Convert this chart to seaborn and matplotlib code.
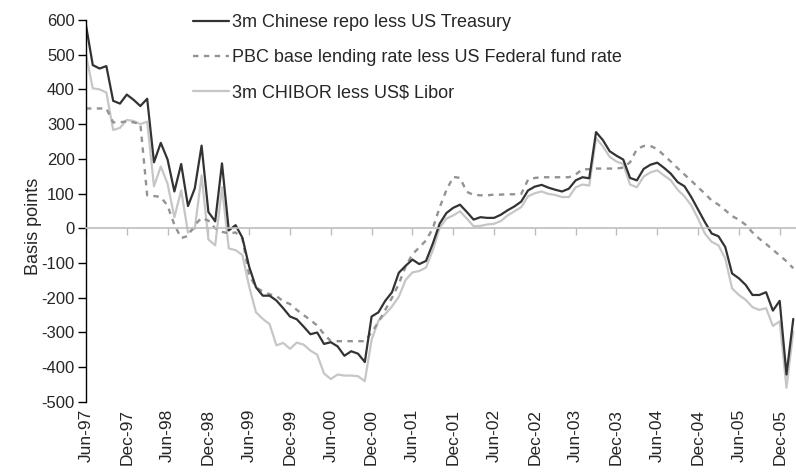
import numpy as np
import pandas as pd
import seaborn as sns
import matplotlib
matplotlib.use("Agg")
import matplotlib.pyplot as plt

# monthly, Jun-97 .. Feb-06 (basis points)
months = pd.date_range("1997-06-01", periods=105, freq="MS")

repo = [585, 470, 460, 467, 367, 359, 385, 370, 352, 373,
        190, 246, 198, 106, 185, 64, 115, 238, 47, 20,
        187, -6, 9, -27, -111, -170, -194, -194, -208, -230,
        -254, -262, -283, -305, -300, -333, -328, -340, -367, -354,
        -361, -385, -254, -242, -209, -184, -128, -108, -90, -103,
        -94, -44, 13, 44, 59, 68, 47, 25, 32, 30,
        30, 39, 52, 63, 77, 109, 120, 125, 117, 111,
        106, 114, 138, 147, 144, 277, 254, 222, 209, 198,
        145, 138, 171, 183, 189, 174, 157, 133, 121, 90,
        54, 18, -15, -23, -54, -130, -144, -163, -192, -192,
        -184, -237, -209, -421, -261]

pbc = [345, 345, 345, 345, 305, 305, 308, 305, 300, 95,
       93, 90, 65, 10, -28, -22, 10, 30, 22, 0,
       -10, -15, -12, -30, -135, -170, -182, -190, -195, -210,
       -218, -235, -250, -264, -280, -305, -325, -325, -325, -325,
       -325, -325, -300, -270, -235, -200, -160, -110, -75, -55,
       -35, 0, 60, 110, 148, 145, 105, 96, 95, 95,
       97, 97, 98, 98, 99, 140, 145, 147, 147, 147,
       147, 147, 155, 170, 170, 172, 172, 172, 172, 175,
       190, 228, 237, 237, 228, 210, 192, 173, 155, 137,
       118, 100, 80, 68, 52, 35, 25, 10, -12, -30,
       -45, -62, -78, -95, -115]

chibor = [500, 403, 400, 391, 283, 289, 312, 309, 300, 307,
          121, 178, 128, 32, 109, -12, -1, 152, -32, -49,
          118, -58, -63, -77, -168, -242, -261, -276, -337, -330,
          -347, -329, -335, -352, -364, -418, -434, -421, -424, -424,
          -426, -440, -321, -266, -247, -225, -197, -149, -127, -123,
          -113, -63, 1, 28, 37, 49, 28, 6, 7, 11,
          13, 21, 37, 49, 61, 92, 101, 106, 99, 96,
          90, 90, 118, 126, 123, 260, 236, 206, 192, 185,
          126, 118, 149, 161, 167, 152, 138, 111, 92, 66,
          28, -15, -39, -49, -87, -173, -192, -206, -227, -235,
          -230, -281, -268, -459, -297]

names = ["3m Chinese repo less US Treasury",
         "PBC base lending rate less US Federal fund rate",
         "3m CHIBOR less US$ Libor"]

x = np.arange(len(months))
tick_pos = x[::6]
tick_labels = months[::6].strftime("%b-%y")

sns.set_theme(style="white")
plt.rcParams["font.family"] = ["Liberation Sans", "DejaVu Sans"]
plt.rcParams["axes.unicode_minus"] = False

fig = plt.figure(figsize=(7.96, 4.74), dpi=100)
ax = fig.add_axes([0.108, 0.152, 0.892, 0.806])

sns.lineplot(x=x, y=chibor, ax=ax, color="#c6c6c6", lw=1.6, label=names[2])
sns.lineplot(x=x, y=pbc, ax=ax, color="#939393", lw=1.7, label=names[1],
             linestyle=(0, (2.3, 2.3)))
sns.lineplot(x=x, y=repo, ax=ax, color="#333333", lw=1.6, label=names[0])

ax.set_xlim(0, 104.4)
ax.set_ylim(-500, 600)
ax.set_yticks(range(-500, 601, 100))
ax.tick_params(axis="y", direction="out", length=6, width=1, color="black",
               labelsize=12, left=True, pad=2)
ax.set_ylabel("Basis points", fontsize=13)
ax.yaxis.set_label_coords(-0.062, 0.46)

for s in ["top", "right"]:
    ax.spines[s].set_visible(False)
ax.spines["left"].set_color("black")
ax.spines["left"].set_linewidth(1)
ax.spines["bottom"].set_position(("data", 0))
ax.spines["bottom"].set_color("#bdbdbd")
ax.spines["bottom"].set_linewidth(1.2)
ax.set_xticks(tick_pos)
ax.tick_params(axis="x", direction="out", length=5, width=1, color="#bdbdbd",
               bottom=True, labelbottom=False)

sec = ax.secondary_xaxis("bottom")
sec.set_xticks(tick_pos, labels=tick_labels)
sec.tick_params(length=0, labelsize=12.5, rotation=90, pad=5)
sec.spines["bottom"].set_visible(False)

handles, labels = ax.get_legend_handles_labels()
order = [labels.index(n) for n in names]
ax.legend([handles[i] for i in order], [labels[i] for i in order],
          loc="upper left", bbox_to_anchor=(0.128, 1.058), frameon=False,
          fontsize=13, handlelength=2.0, handletextpad=0.15, labelspacing=1.0)

fig.savefig("out.png", dpi=100)
